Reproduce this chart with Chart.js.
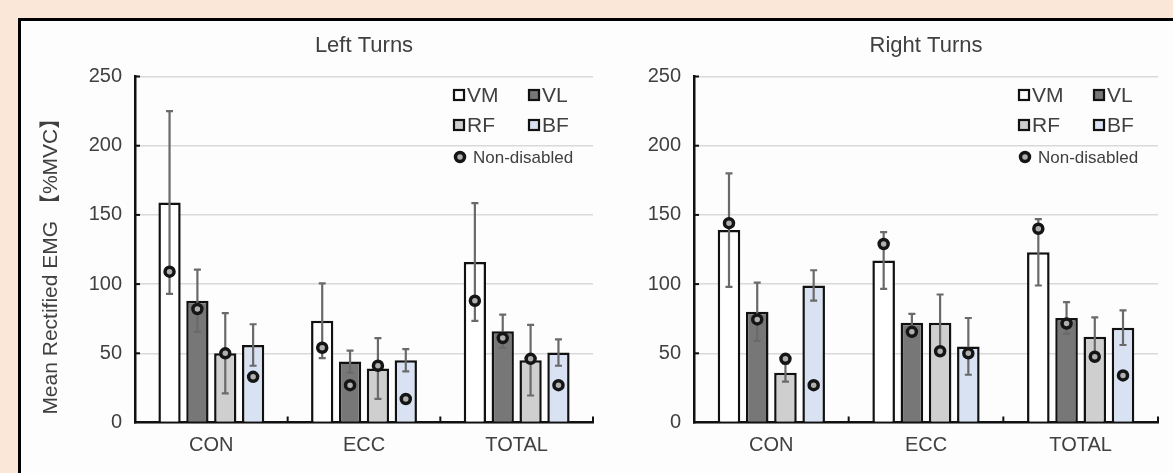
<!DOCTYPE html>
<html>
<head>
<meta charset="utf-8">
<script src="https://cdn.jsdelivr.net/npm/chart.js@4.4.1/dist/chart.umd.min.js"></script>
<style>
  html, body { margin: 0; padding: 0; }
  body { width: 1173px; height: 473px; background: #fbe7d8; position: relative; overflow: hidden; }
  #panel { position: absolute; left: 18px; top: 18px; right: 0; bottom: 0; background: #fdfdfd; border-left: 3px solid #000; border-top: 3px solid #000; }
  canvas { position: absolute; top: 21px; }
  #left { left: 21px; }
  #right { left: 630px; }
</style>
</head>
<body>
<div id="panel"></div>
<canvas id="left" width="600" height="452"></canvas>
<canvas id="right" width="543" height="452"></canvas>
<script>
const categories = ['CON', 'ECC', 'TOTAL'];
const muscles = ['VM', 'VL', 'RF', 'BF'];
const colors = ['#ffffff', '#777777', '#cfcfcf', '#d9e2f3'];
const yTicks = [0, 50, 100, 150, 200, 250];

// Left turns: means, SD, non-disabled means
const leftVM = [159, 73.5, 116];
const leftVL = [88, 44, 66];
const leftRF = [50, 39, 45];
const leftBF = [56, 45, 50.5];
const leftVMsd = [66, 27, 42.5];
const leftVLsd = [22.5, 8, 12];
const leftRFsd = [29, 22, 25.5];
const leftBFsd = [15, 8, 9.5];
const leftVMnd = [109, 54, 88];
const leftVLnd = [82, 27, 61];
const leftRFnd = [50, 41, 46];
const leftBFnd = [33, 17, 27];

// Right turns
const rightVM = [139, 117, 123];
const rightVL = [80, 72, 75.5];
const rightRF = [36, 72, 62];
const rightBF = [99, 55, 68.5];
const rightVMsd = [41, 20.5, 24];
const rightVLsd = [21, 6.5, 11.5];
const rightRFsd = [6.5, 20.5, 14];
const rightBFsd = [11, 20.5, 12.5];
const rightVMnd = [144, 129, 140];
const rightVLnd = [74.5, 65.5, 71.5];
const rightRFnd = [46, 51.5, 47.5];
const rightBFnd = [27, 50, 34];

const FONT = "'Liberation Sans', Arial, 'Noto Sans CJK JP', sans-serif";
Chart.defaults.font.family = FONT;
Chart.defaults.color = '#404040';

function ring(ctx, px, py) {
  ctx.beginPath();
  ctx.arc(px, py, 4.5, 0, Math.PI * 2);
  ctx.fillStyle = '#b0b0b0';
  ctx.fill();
  ctx.strokeStyle = '#151515';
  ctx.lineWidth = 3.5;
  ctx.stroke();
}

// error bars, markers, inner ticks and legend
const decor = {
  id: 'decor',
  afterDatasetsDraw(chart) {
    const ctx = chart.ctx;
    const x = chart.scales.x;
    const y = chart.scales.y;
    const area = chart.chartArea;
    ctx.save();

    // small inward ticks
    ctx.strokeStyle = '#111';
    ctx.lineWidth = 2;
    y.ticks.forEach((t, i) => {
      if (i === 0) return;
      const py = y.getPixelForTick(i);
      ctx.beginPath();
      ctx.moveTo(area.left, py);
      ctx.lineTo(area.left + 5, py);
      ctx.stroke();
    });
    for (let i = 0; i < categories.length; i++) {
      const px = x.getPixelForValue(i + 0.5);
      ctx.beginPath();
      ctx.moveTo(px, area.bottom);
      ctx.lineTo(px, area.bottom - 6);
      ctx.stroke();
    }

    // error bars
    ctx.strokeStyle = '#6a6a6a';
    ctx.lineWidth = 2.2;
    chart.data.datasets.forEach((ds, d) => {
      const meta = chart.getDatasetMeta(d);
      meta.data.forEach((bar, j) => {
        const top = y.getPixelForValue(ds.data[j] + ds.sd[j]);
        const bot = y.getPixelForValue(ds.data[j] - ds.sd[j]);
        ctx.beginPath();
        ctx.moveTo(bar.x, top);
        ctx.lineTo(bar.x, bot);
        ctx.moveTo(bar.x - 3.5, top);
        ctx.lineTo(bar.x + 3.5, top);
        ctx.moveTo(bar.x - 3.5, bot);
        ctx.lineTo(bar.x + 3.5, bot);
        ctx.stroke();
      });
    });

    // non-disabled markers
    chart.data.datasets.forEach((ds, d) => {
      const meta = chart.getDatasetMeta(d);
      meta.data.forEach((bar, j) => ring(ctx, bar.x, y.getPixelForValue(ds.nd[j])));
    });

    // legend
    const rows = [area.top + 18.5, area.top + 48.5];
    chart.data.datasets.forEach((ds, i) => {
      const bx = area.right - (i % 2 ? 64 : 139);
      const by = rows[Math.floor(i / 2)];
      ctx.fillStyle = ds.backgroundColor;
      ctx.fillRect(bx, by - 5, 10, 10);
      ctx.strokeStyle = '#111';
      ctx.lineWidth = 2.2;
      ctx.strokeRect(bx, by - 5, 10, 10);
      ctx.fillStyle = '#404040';
      ctx.font = '21px ' + FONT;
      ctx.textBaseline = 'middle';
      ctx.fillText(ds.label, bx + 13, by + 1);
    });
    const ny = area.top + 80.5;
    ring(ctx, area.right - 133, ny);
    ctx.fillStyle = '#404040';
    ctx.font = '17px ' + FONT;
    ctx.textBaseline = 'middle';
    ctx.fillText('Non-disabled', area.right - 120, ny + 1);
    ctx.restore();
  }
};

function makeChart(id, title, means, sds, nds, showTitle, yWidth, padRight) {
  return new Chart(document.getElementById(id), {
    type: 'bar',
    data: {
      labels: categories,
      datasets: muscles.map((m, i) => ({
        label: m,
        data: means[i],
        sd: sds[i],
        nd: nds[i],
        backgroundColor: colors[i],
        borderColor: '#111',
        borderWidth: 2.5,
        borderSkipped: 'bottom',
        categoryPercentage: 0.73,
        barPercentage: 0.8
      }))
    },
    options: {
      responsive: false,
      animation: false,
      devicePixelRatio: 1,
      layout: { padding: { left: 0, right: padRight, top: 0, bottom: 0 } },
      scales: {
        x: {
          grid: { display: false, drawTicks: false },
          border: { display: true, color: '#111', width: 2.5 },
          ticks: { font: { size: 20 }, padding: 11 },
          afterFit(scale) { scale.height = 50.5; }
        },
        y: {
          min: 0,
          max: 250,
          afterBuildTicks(scale) { scale.ticks = yTicks.map(v => ({ value: v })); },
          grid: { color: '#d9d9d9', lineWidth: 1.5, drawTicks: false },
          border: { display: true, color: '#111', width: 2.5 },
          ticks: { font: { size: 20 }, padding: 13 },
          title: {
            display: showTitle,
            text: 'Mean Rectified EMG 【%MVC】    ',
            font: { size: 21 },
            padding: { top: 18, bottom: 0 }
          },
          afterFit(scale) { scale.width = yWidth; }
        }
      },
      plugins: {
        legend: { display: false },
        tooltip: { enabled: false },
        title: {
          display: true,
          text: title,
          fullSize: false,
          font: { size: 22, weight: 'normal' },
          color: '#404040',
          padding: { top: 12, bottom: 17.1 }
        }
      }
    },
    plugins: [decor]
  });
}

makeChart('left', 'Left Turns',
  [leftVM, leftVL, leftRF, leftBF],
  [leftVMsd, leftVLsd, leftRFsd, leftBFsd],
  [leftVMnd, leftVLnd, leftRFnd, leftBFnd],
  true, 114, 28);

makeChart('right', 'Right Turns',
  [rightVM, rightVL, rightRF, rightBF],
  [rightVMsd, rightVLsd, rightRFsd, rightBFsd],
  [rightVMnd, rightVLnd, rightRFnd, rightBFnd],
  false, 64, 15);
</script>
</body>
</html>
